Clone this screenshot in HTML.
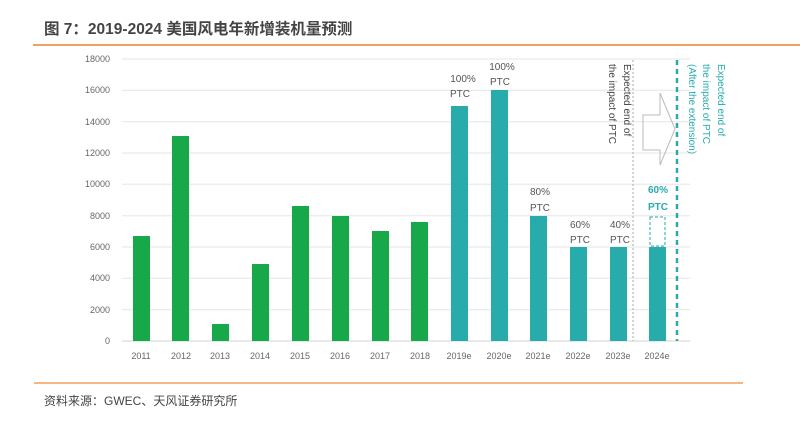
<!DOCTYPE html>
<html><head><meta charset="utf-8"><style>
body{margin:0;background:#fff;width:800px;height:441px;overflow:hidden}
svg{display:block}
</style></head><body>
<svg width="800" height="441" xmlns="http://www.w3.org/2000/svg" font-family="Liberation Sans, Noto Sans CJK SC, sans-serif">
<text x="44" y="34" font-size="15.5" font-weight="bold" fill="#444">图 7：2019-2024 美国风电年新增装机量预测</text>
<line x1="33" y1="45" x2="800" y2="45" stroke="#f0a060" stroke-width="2"/>
<g stroke="#e6e6e6" stroke-width="1">
<line x1="122" y1="59" x2="690" y2="59"/><line x1="122" y1="90.3" x2="690" y2="90.3"/>
<line x1="122" y1="121.7" x2="690" y2="121.7"/><line x1="122" y1="153" x2="690" y2="153"/>
<line x1="122" y1="184.3" x2="690" y2="184.3"/><line x1="122" y1="215.7" x2="690" y2="215.7"/>
<line x1="122" y1="247" x2="690" y2="247"/><line x1="122" y1="278.3" x2="690" y2="278.3"/>
<line x1="122" y1="309.7" x2="690" y2="309.7"/><line x1="122" y1="341" x2="690" y2="341" stroke="#d0d0d0"/>
</g>
<g font-size="9" fill="#666" text-anchor="end">
<text x="110" y="62">18000</text><text x="110" y="93">16000</text><text x="110" y="125">14000</text>
<text x="110" y="156">12000</text><text x="110" y="187">10000</text><text x="110" y="219">8000</text>
<text x="110" y="250">6000</text><text x="110" y="281">4000</text><text x="110" y="313">2000</text><text x="110" y="344">0</text>
</g>
<g fill="#17a84a">
<rect x="133" y="236" width="17" height="105"/><rect x="172" y="136" width="17" height="205"/>
<rect x="212" y="324" width="17" height="17"/><rect x="252" y="264" width="17" height="77"/>
<rect x="292" y="206" width="17" height="135"/><rect x="332" y="216" width="17" height="125"/>
<rect x="372" y="231" width="17" height="110"/><rect x="411" y="222" width="17" height="119"/>
</g>
<g fill="#27abab">
<rect x="451" y="106" width="17" height="235"/><rect x="491" y="90" width="17" height="251"/>
<rect x="530" y="216" width="17" height="125"/><rect x="570" y="247" width="17" height="94"/>
<rect x="610" y="247" width="17" height="94"/><rect x="649" y="247" width="17" height="94"/>
</g>
<rect x="650" y="217" width="15" height="29" fill="none" stroke="#27abab" stroke-dasharray="3,2"/>
<g font-size="10" fill="#555" text-anchor="middle">
<text x="463" y="82">100%</text><text x="460" y="97">PTC</text>
<text x="502" y="70">100%</text><text x="500" y="85">PTC</text>
<text x="540" y="195">80%</text><text x="540" y="211">PTC</text>
<text x="580" y="228">60%</text><text x="580" y="243">PTC</text>
<text x="620" y="228">40%</text><text x="620" y="243">PTC</text>
<text x="658" y="193" fill="#27abab" font-weight="bold">60%</text><text x="658" y="210" fill="#27abab" font-weight="bold">PTC</text>
</g>
<line x1="633" y1="60" x2="633" y2="341" stroke="#aaa" stroke-dasharray="2,2"/>
<line x1="677" y1="60" x2="677" y2="341" stroke="#27abab" stroke-width="2.5" stroke-dasharray="5,4"/>
<path d="M643 115 L660 115 L660 93 L675 129 L660 165 L660 150 L643 150 Z" fill="none" stroke="#bbb"/>
<g font-size="10" fill="#444">
<text transform="translate(624,64) rotate(90)">Expected end of</text>
<text transform="translate(609,64) rotate(90)">the impact of PTC</text>
</g>
<g font-size="10" fill="#27abab">
<text transform="translate(718,64) rotate(90)">Expected end of</text>
<text transform="translate(703,64) rotate(90)">the impact of PTC</text>
<text transform="translate(689,64) rotate(90)">(After the extension)</text>
</g>
<g font-size="9" fill="#666" text-anchor="middle">
<text x="141" y="359">2011</text><text x="181" y="359">2012</text><text x="220" y="359">2013</text>
<text x="260" y="359">2014</text><text x="300" y="359">2015</text><text x="340" y="359">2016</text>
<text x="380" y="359">2017</text><text x="420" y="359">2018</text><text x="459" y="359">2019e</text>
<text x="499" y="359">2020e</text><text x="538" y="359">2021e</text><text x="578" y="359">2022e</text>
<text x="618" y="359">2023e</text><text x="657" y="359">2024e</text>
</g>
<line x1="34" y1="383" x2="743" y2="383" stroke="#f0a060" stroke-width="1.5"/>
<text x="44" y="405" font-size="12" fill="#444">资料来源：GWEC、天风证券研究所</text>
</svg>
</body></html>
